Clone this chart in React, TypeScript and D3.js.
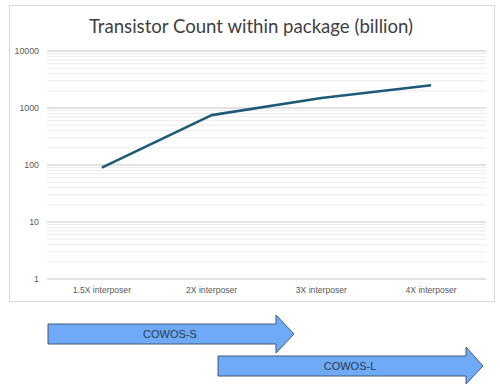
import React from "react";
import * as d3 from "d3";

const categories = ["1.5X interposer", "2X interposer", "3X interposer", "4X interposer"];
const transistorCount = [90, 750, 1500, 2500];
const yTicks = [1, 10, 100, 1000, 10000];
const arrowLabels = ["COWOS-S", "COWOS-L"];

const W = 500;
const H = 387;
const plot = { left: 47, right: 486, top: 51, bottom: 279 };

export default function App() {
  const x = d3
    .scaleBand<string>()
    .domain(categories)
    .range([plot.left, plot.right]);
  const y = d3.scaleLog().domain([1, 10000]).range([plot.bottom, plot.top]);
  const cx = (i: number) => (x(categories[0]) as number) + x.bandwidth() * (i + 0.5);

  const minor: number[] = [];
  for (let d = 1; d < 10000; d *= 10) {
    for (let k = 2; k <= 9; k++) minor.push(d * k);
  }

  const line = d3
    .line<number>()
    .x((_, i) => cx(i))
    .y((v) => y(v));

  const arrowGeom = [
    { top: 324, bot: 344, headTop: 315, headBot: 353 },
    { top: 356, bot: 376, headTop: 347, headBot: 384 },
  ];
  const arrowX0 = [48, 218];
  const headBase = [276, 466];
  const tipX = [294, 483];

  return (
    <svg
      width={W}
      height={H}
      style={{ position: "absolute", left: 0, top: 0, background: "#fff" }}
      fontFamily="'Liberation Sans', Arial, sans-serif"
    >
      <rect x={9.5} y={5.5} width={485} height={296} fill="#fff" stroke="#d9d9d9" strokeWidth={1} />
      <text
        x={251}
        y={33}
        textAnchor="middle"
        fontFamily="Lato, 'Open Sans', sans-serif"
        fontSize={18.6}
        fill="#404040"
      >
        Transistor Count within package (billion)
      </text>
      {minor.map((v, i) => (
        <line
          key={"m" + i}
          x1={plot.left}
          x2={plot.right}
          y1={y(v)}
          y2={y(v)}
          stroke="#ececec"
          strokeWidth={1}
        />
      ))}
      {yTicks.map((v) => (
        <g key={v}>
          <line
            x1={plot.left}
            x2={plot.right}
            y1={y(v)}
            y2={y(v)}
            stroke="#d9d9d9"
            strokeWidth={1.3}
          />
          <text
            x={39}
            y={y(v)}
            dy="0.35em"
            textAnchor="end"
            fontSize={8.8}
            fill="#595959"
          >
            {v}
          </text>
        </g>
      ))}
      {categories.map((c, i) => (
        <text key={c} x={cx(i)} y={293} textAnchor="middle" fontSize={8.6} fill="#595959">
          {c}
        </text>
      ))}
      <path
        d={line(transistorCount) || ""}
        fill="none"
        stroke="#1c5a78"
        strokeWidth={2.6}
        strokeLinejoin="round"
      />
      {arrowLabels.map((lab, i) => {
        const g = arrowGeom[i];
        const mid = (g.top + g.bot) / 2;
        const x0 = arrowX0[i];
        const hb = headBase[i];
        const tx = tipX[i];
        const d = `M${x0},${g.top} L${hb},${g.top} L${hb},${g.headTop} L${tx},${mid} L${hb},${g.headBot} L${hb},${g.bot} L${x0},${g.bot} Z`;
        return (
          <g key={lab}>
            <path d={d} fill="#6eaaf6" stroke="#44597a" strokeWidth={1} strokeLinejoin="round" />
            <text
              x={(x0 + hb) / 2 + 8}
              y={mid}
              dy="0.35em"
              textAnchor="middle"
              fontSize={11}
              fill="#2b3a4f"
            >
              {lab}
            </text>
          </g>
        );
      })}
    </svg>
  );
}
